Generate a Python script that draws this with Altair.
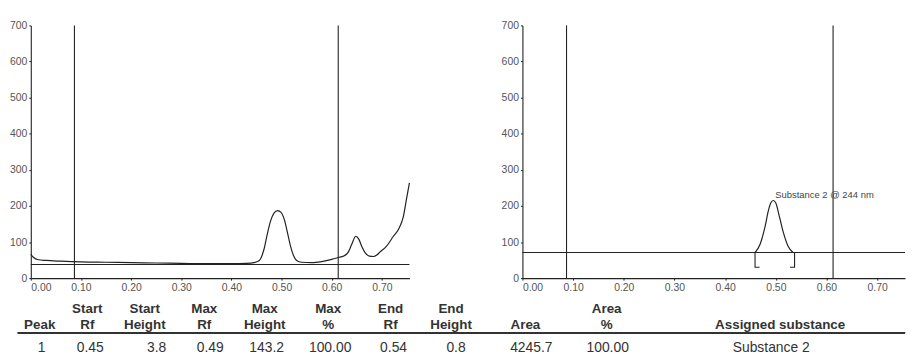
import altair as alt
import pandas as pd

# ---------------- data ----------------
# left densitogram (track scan)
left_rf = [0.000, 0.005, 0.015, 0.03, 0.06, 0.10, 0.15, 0.20, 0.25, 0.30, 0.35, 0.40,
           0.43, 0.445, 0.455, 0.465, 0.472, 0.478, 0.485, 0.492, 0.499, 0.506, 0.512,
           0.518, 0.524, 0.530, 0.540, 0.56, 0.58, 0.60, 0.615, 0.625, 0.633, 0.640,
           0.648, 0.654, 0.660, 0.667, 0.675, 0.683, 0.690, 0.696, 0.709, 0.723, 0.733,
           0.743, 0.749, 0.755]
left_val = [66, 58, 51, 49, 47, 45, 44, 43, 42, 41, 40, 40,
            41, 43, 48, 80, 125, 158, 180, 187, 182, 160, 125,
            88, 62, 49, 44, 43, 46, 52, 58, 62, 72, 94,
            116, 108, 88, 70, 61, 60, 64, 72, 88, 116, 135,
            171, 218, 264]
left_base_rf = [0.0, 0.755]
left_base_val = [38, 38]

# right densitogram (assigned peak)
right_peak_rf = [0.459, 0.469, 0.479, 0.485, 0.490, 0.495, 0.500, 0.507, 0.515, 0.524, 0.534]
right_peak_val = [71, 94, 144, 185, 208, 215, 208, 171, 126, 89, 71]
right_base_rf = [0.0, 0.755]
right_base_val = [71, 71]
bracket_rf = [0.459, 0.537]
bracket_foot = [0.009, -0.009]
bracket_low = 30
peak_label = "Substance 2 @ 244 nm"
peak_label_rf = 0.499
peak_label_val = 231

# application / front lines
track_lines_rf = [0.087, 0.613]

x_ticks = [0.0, 0.1, 0.2, 0.3, 0.4, 0.5, 0.6, 0.7]
y_ticks = [0, 100, 200, 300, 400, 500, 600, 700]

# table
header_line1 = ["", "Start", "Start", "Max", "Max", "Max", "End", "End", "", "Area", ""]
header_line2 = ["Peak", "Rf", "Height", "Rf", "Height", "%", "Rf", "Height", "Area", "%",
                "Assigned substance"]
row_values = ["1", "0.45", "3.8", "0.49", "143.2", "100.00", "0.54", "0.8", "4245.7",
              "100.00", "Substance 2"]

# ---------------- layout (pixels) ----------------
W, H = 882, 255
LEFT_RANGE = [0, 382]
RIGHT_RANGE = [496, 882]
RF_MAX = 0.755
header_x = [9, 57, 115, 175, 236, 300, 363, 424, 499, 581, 756]
value_x = [11, 60, 127, 181, 238, 302, 366, 429, 505, 582, 747]
Y_H1, Y_H2, Y_LINE, Y_VAL = 286, 302, 310, 325

INK = "#222222"
FONT = "Liberation Sans"


def xs(side):
    return alt.Scale(domain=[0, RF_MAX], range=LEFT_RANGE if side == "L" else RIGHT_RANGE,
                     nice=False, zero=False)


ys = alt.Scale(domain=[0, 700], nice=False, zero=False)


def x_axis():
    return alt.Axis(orient="bottom", values=x_ticks, format=".2f", title=None)


def y_axis(offset=0):
    return alt.Axis(orient="left", values=y_ticks, format="d", title=None, offset=offset)


# ---------------- left panel ----------------
ldf = pd.DataFrame({"rf": left_rf, "v": left_val})
left_curve = alt.Chart(ldf).mark_line(color=INK, strokeWidth=1.2, interpolate="monotone").encode(
    x=alt.X("rf:Q", scale=xs("L"), axis=x_axis()),
    y=alt.Y("v:Q", scale=ys, axis=y_axis()),
)
left_base = alt.Chart(pd.DataFrame({"rf": left_base_rf, "v": left_base_val})).mark_line(
    color=INK, strokeWidth=1.1).encode(
    x=alt.X("rf:Q", scale=xs("L"), axis=None),
    y=alt.Y("v:Q", scale=ys, axis=None),
)
rules_df = pd.DataFrame({"rf": track_lines_rf, "top": [700] * len(track_lines_rf),
                         "bot": [0] * len(track_lines_rf)})
left_rules = alt.Chart(rules_df).mark_rule(color=INK, strokeWidth=1.1).encode(
    x=alt.X("rf:Q", scale=xs("L"), axis=None),
    y=alt.Y("top:Q", scale=ys, axis=None),
    y2="bot:Q",
)

# ---------------- right panel ----------------
right_base = alt.Chart(pd.DataFrame({"rf": right_base_rf, "v": right_base_val})).mark_line(
    color=INK, strokeWidth=1.1).encode(
    x=alt.X("rf:Q", scale=xs("R"), axis=x_axis()),
    y=alt.Y("v:Q", scale=ys, axis=y_axis(offset=-RIGHT_RANGE[0])),
)
right_peak = alt.Chart(pd.DataFrame({"rf": right_peak_rf, "v": right_peak_val})).mark_line(
    color=INK, strokeWidth=1.2, interpolate="monotone").encode(
    x=alt.X("rf:Q", scale=xs("R"), axis=None),
    y=alt.Y("v:Q", scale=ys, axis=None),
)
right_rules = alt.Chart(rules_df).mark_rule(color=INK, strokeWidth=1.1).encode(
    x=alt.X("rf:Q", scale=xs("R"), axis=None),
    y=alt.Y("top:Q", scale=ys, axis=None),
    y2="bot:Q",
)
brk_rows = []
for i, (rf, foot) in enumerate(zip(bracket_rf, bracket_foot)):
    brk_rows += [
        {"g": i, "o": 0, "rf": rf, "v": right_base_val[0]},
        {"g": i, "o": 1, "rf": rf, "v": bracket_low},
        {"g": i, "o": 2, "rf": rf + foot, "v": bracket_low},
    ]
brackets = alt.Chart(pd.DataFrame(brk_rows)).mark_line(color=INK, strokeWidth=1.1).encode(
    x=alt.X("rf:Q", scale=xs("R"), axis=None),
    y=alt.Y("v:Q", scale=ys, axis=None),
    detail="g:N",
    order="o:Q",
)
label = alt.Chart(pd.DataFrame({"rf": [peak_label_rf], "v": [peak_label_val],
                                "t": [peak_label]})).mark_text(
    align="left", baseline="middle", fontSize=9.5, font=FONT, color="#444444").encode(
    x=alt.X("rf:Q", scale=xs("R"), axis=None),
    y=alt.Y("v:Q", scale=ys, axis=None),
    text="t:N",
)

# ---------------- table ----------------
hdr_rows = []
for x, t1, t2 in zip(header_x, header_line1, header_line2):
    if t1:
        hdr_rows.append({"px": x, "py": Y_H1, "t": t1})
    hdr_rows.append({"px": x, "py": Y_H2, "t": t2})
headers = alt.Chart(pd.DataFrame(hdr_rows)).mark_text(
    align="center", baseline="middle", fontSize=13.5, fontWeight="bold", font=FONT,
    color="#333333").encode(
    x=alt.X("px:Q", scale=None, axis=None),
    y=alt.Y("py:Q", scale=None, axis=None),
    text="t:N",
)
val_df = pd.DataFrame({"px": value_x, "py": [Y_VAL] * len(value_x), "t": row_values})
values = alt.Chart(val_df).mark_text(
    align="center", baseline="middle", fontSize=14, font=FONT, color="#333333").encode(
    x=alt.X("px:Q", scale=None, axis=None),
    y=alt.Y("py:Q", scale=None, axis=None),
    text="t:N",
)
underline = alt.Chart(val_df).mark_rule(color="#333333", strokeWidth=1.6).encode(
    x=alt.value(-13), x2=alt.value(W), y=alt.value(Y_LINE))

chart = alt.layer(
    left_curve, left_base, left_rules,
    right_base, right_peak, right_rules, brackets, label,
    headers, values, underline,
).resolve_scale(x="independent", y="independent").properties(
    width=W, height=H,
    autosize=alt.AutoSizeParams(type="none"),
    padding={"left": 23, "top": 16, "right": 4, "bottom": 80},
    background="white",
).configure_view(strokeWidth=0).configure_axis(
    grid=False, labelFont=FONT, labelFontSize=10.5, labelColor="#555555",
    domainColor=INK, domainWidth=1.1, tickColor=INK, tickSize=2, labelPadding=2,
)

chart.save("out.html", embed_options={"renderer": "svg", "actions": False})
